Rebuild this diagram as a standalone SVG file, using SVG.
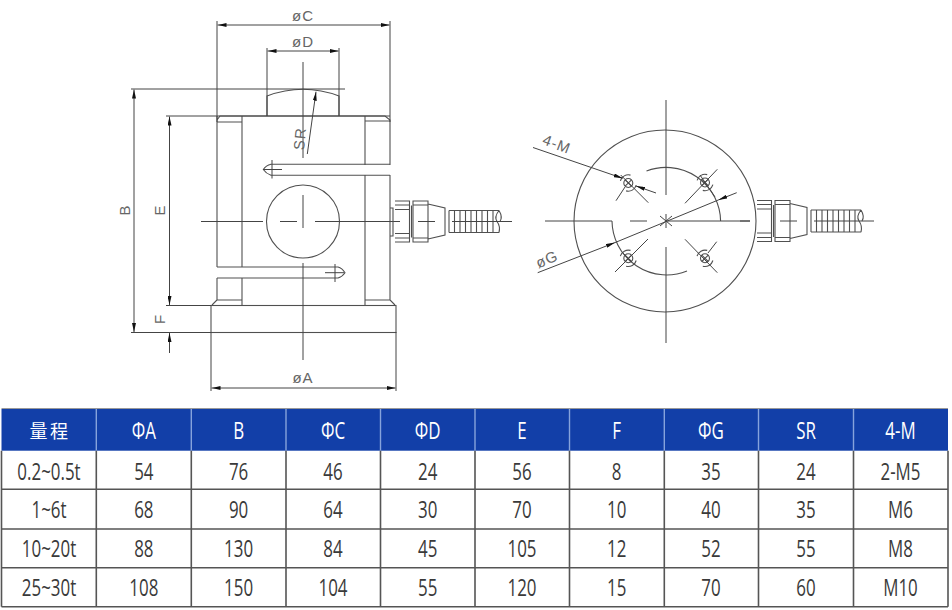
<svg xmlns="http://www.w3.org/2000/svg" width="952" height="610" viewBox="0 0 952 610">
<style>
.l{fill:none;stroke:#505050;stroke-width:1.1}
.d{fill:none;stroke:#444;stroke-width:1}
.a{marker-start:url(#ar);marker-end:url(#ar)}
.e{marker-end:url(#ar)}
.lb{font-family:"Liberation Sans",Arial,sans-serif;font-size:15px;fill:#666;text-anchor:middle;letter-spacing:1px}
.g{stroke:#555;stroke-width:1.6}
.h{stroke:#86a3dc;stroke-width:1.4}
.t{font-family:"Open Sans","Liberation Sans",sans-serif;font-size:23.500px;fill:#3a3a3a;text-anchor:middle}
.w{fill:#fff}
</style>
<defs>
<marker id="ar" viewBox="0 0 9 4" markerUnits="userSpaceOnUse" markerWidth="9" markerHeight="4" refX="9" refY="2" orient="auto-start-reverse"><path d="M0 0L9 2L0 4Z" fill="#111"/></marker>
<g id="cable">
<path class="l" d="M0 -20.500H14.500V20.500H0M0 -16.500H14.500M0 -12H14.500M0 12H14.500M0 16.500H14.500"/>
<path class="l" d="M16.500 -16V16M18 -20.500H33V20.500H18ZM18 -16.500H33M18 16.500H33M33 -17.500L50 -13.500V13.500L33 17.500"/>
<path class="l" d="M54 -11H104M54 11H104M54 -11V11M59.500 -11V11M65 -11V11M70.500 -11V11M76 -11V11M81.500 -11V11M87 -11V11M92.500 -11V11M98 -11V11M104 -11C100 -6 100 -3 102 0C105 4 105 7 104 11M104 -11C107 -6 107 -3 105 0"/>
<path class="d" d="M23 0H40M57 0H117"/>
</g>
<g id="bolt"><circle class="l" r="4.500"/><path class="l" d="M-3.200 -3.200L3.200 3.200M-3.200 3.200L3.200 -3.200"/><path class="l" d="M-7.900 -2.200A8.200 8.200 0 0 1 2.200 -7.900M7.900 2.200A8.200 8.200 0 0 1 -2.200 7.900"/></g>
</defs>
<rect width="952" height="610" fill="#fff"/>
<g id="side-view">
<path class="l" d="M217 116V267M217 278V300L212 305M217 120L220 116H385L390 120V165M390 175V300L395 305M217 122H242M242 116V267M242 278V305M365 116V165M365 175V305M365 121H390M365 300H390M217 300H242"/>
<path class="l" d="M390 164.300H271Q266 165.500 263.300 169.500Q266 173.500 271 175.300H390"/>
<path class="l" d="M217 267H338Q342 268 345 272.700Q342 277 338 278H217"/>
<rect class="l" x="211" y="305.500" width="185" height="27"/>
<path class="l" d="M267 116V96Q303 82.500 339 96V116"/>
<circle class="l" cx="303" cy="221.500" r="36.500"/>
<path class="d" d="M263 169.500H282M272 160V178.500M325 272.700H344M335 264V282"/>
<path class="d" d="M303 62V158M303 195V228M303 263V360M201 221.500H263M280 221.500H297M315 221.500H400"/>
</g>
<g id="dimensions">
<path class="d" d="M217 21V122M390 21V122M267 48V116M339 48V116M131 89H345M166 116H390M166 305.500H211M131 332.500H211M211 332V391M396 332V391"/>
<path class="d a" d="M217.500 25H389.500"/>
<path class="d a" d="M267.500 51H338.500"/>
<path class="d a" d="M134 89.500V332"/>
<path class="d a" d="M169.500 116.500V305"/>
<path class="d" style="marker-start:url(#ar)" d="M169.500 333V353"/>
<path class="d a" d="M211.500 388H395.500"/>
<path class="d e" d="M307.300 154L316 91.700"/>
<text class="lb" x="303" y="20.500">øC</text>
<text class="lb" x="303" y="46.500">øD</text>
<text class="lb" x="303" y="383">øA</text>
<text class="lb" transform="translate(130 210) rotate(-90)">B</text>
<text class="lb" transform="translate(165 210) rotate(-90)">E</text>
<text class="lb" transform="translate(165 319) rotate(-90)">F</text>
<text class="lb" transform="translate(305 139) rotate(-85)">SR</text>
</g>
<use href="#cable" x="395" y="221.500"/>
<path class="l" d="M390 208H393V236H390"/>
<g id="top-view">
<circle class="l" cx="665" cy="221" r="91"/>
<path class="l" d="M646.500 171A54.600 54.600 0 0 1 720.600 221M612 221A54.600 54.600 0 0 0 687 271"/>
<path class="d" d="M666 100V195M666 247V343M545 221H612V221M630 221H647M666 221H750M666 214V228M660 216L672 226M672 216L660 226"/>
<use href="#bolt" x="628.300" y="183"/>
<use href="#bolt" x="705" y="182.500"/>
<use href="#bolt" x="628.300" y="258.300"/>
<use href="#bolt" x="705" y="258.300"/>
<path class="d" d="M620.700 175L648.300 202.700M616 200.700L625 187M685 203.300L717.300 169.300M700 175L715 197M648 239L615 272M622 252L632 262M685 239.300L717.300 272.700M716.700 241.700L708 253"/>
<path class="d e" d="M533 147.500L622.700 178.300"/>
<path class="d e" d="M656 193L636 186"/>
<path class="d e" d="M537.700 272.700L615 242.600"/>
<path class="d" d="M615 242.600L718.300 200"/>
<path class="d e" d="M736.700 192.700L718.300 200"/>
<text class="lb" transform="translate(555 149) rotate(21)">4-M</text>
<text class="lb" transform="translate(549 264) rotate(-23)">øG</text>
</g>
<use href="#cable" x="757" y="221"/>
<path class="d" d="M740 221H750"/>
<g id="spec-table">
<rect x="1.500" y="409" width="946.500" height="41.700" fill="#123fa8"/>
<path stroke="#999" stroke-width="1.200" d="M1.500 408.500H948"/>
<path class="h" d="M96.300 409V450.700M191.300 409V450.700M286 409V450.700M380.500 409V450.700M475 409V450.700M569.500 409V450.700M664.300 409V450.700M758.500 409V450.700M853.500 409V450.700"/>
<path class="g" d="M1.500 489.300H948M1.500 529H948M1.500 567.700H948M1.500 606.700H948M1.500 450.700V606.700M96.300 450.700V606.700M191.300 450.700V606.700M286 450.700V606.700M380.500 450.700V606.700M475 450.700V606.700M569.500 450.700V606.700M664.300 450.700V606.700M758.500 450.700V606.700M853.500 450.700V606.700M948 450.700V606.700"/>
<text x="50" y="438" fill="#fff" text-anchor="middle" font-family="'Noto Sans CJK SC',sans-serif" font-size="18" letter-spacing="2.500">量程</text>
<text class="t w" transform="translate(143.800 439) scale(.72 1)">ΦA</text>
<text class="t w" transform="translate(238.600 439) scale(.72 1)">B</text>
<text class="t w" transform="translate(333 439) scale(.72 1)">ΦC</text>
<text class="t w" transform="translate(427.700 439) scale(.72 1)">ΦD</text>
<text class="t w" transform="translate(522 439) scale(.72 1)">E</text>
<text class="t w" transform="translate(616.700 439) scale(.72 1)">F</text>
<text class="t w" transform="translate(711 439) scale(.72 1)">ΦG</text>
<text class="t w" transform="translate(806 439) scale(.72 1)">SR</text>
<text class="t w" transform="translate(900.500 439) scale(.72 1)">4-M</text>
<text class="t" transform="translate(49 479.500) scale(.72 1)">0.2~0.5t</text>
<text class="t" transform="translate(143.800 479.500) scale(.72 1)">54</text>
<text class="t" transform="translate(238.600 479.500) scale(.72 1)">76</text>
<text class="t" transform="translate(333 479.500) scale(.72 1)">46</text>
<text class="t" transform="translate(427.700 479.500) scale(.72 1)">24</text>
<text class="t" transform="translate(522 479.500) scale(.72 1)">56</text>
<text class="t" transform="translate(616.700 479.500) scale(.72 1)">8</text>
<text class="t" transform="translate(711 479.500) scale(.72 1)">35</text>
<text class="t" transform="translate(806 479.500) scale(.72 1)">24</text>
<text class="t" transform="translate(900.500 479.500) scale(.72 1)">2-M5</text>
<text class="t" transform="translate(49 518) scale(.72 1)">1~6t</text>
<text class="t" transform="translate(143.800 518) scale(.72 1)">68</text>
<text class="t" transform="translate(238.600 518) scale(.72 1)">90</text>
<text class="t" transform="translate(333 518) scale(.72 1)">64</text>
<text class="t" transform="translate(427.700 518) scale(.72 1)">30</text>
<text class="t" transform="translate(522 518) scale(.72 1)">70</text>
<text class="t" transform="translate(616.700 518) scale(.72 1)">10</text>
<text class="t" transform="translate(711 518) scale(.72 1)">40</text>
<text class="t" transform="translate(806 518) scale(.72 1)">35</text>
<text class="t" transform="translate(900.500 518) scale(.72 1)">M6</text>
<text class="t" transform="translate(49 557) scale(.72 1)">10~20t</text>
<text class="t" transform="translate(143.800 557) scale(.72 1)">88</text>
<text class="t" transform="translate(238.600 557) scale(.72 1)">130</text>
<text class="t" transform="translate(333 557) scale(.72 1)">84</text>
<text class="t" transform="translate(427.700 557) scale(.72 1)">45</text>
<text class="t" transform="translate(522 557) scale(.72 1)">105</text>
<text class="t" transform="translate(616.700 557) scale(.72 1)">12</text>
<text class="t" transform="translate(711 557) scale(.72 1)">52</text>
<text class="t" transform="translate(806 557) scale(.72 1)">55</text>
<text class="t" transform="translate(900.500 557) scale(.72 1)">M8</text>
<text class="t" transform="translate(49 596) scale(.72 1)">25~30t</text>
<text class="t" transform="translate(143.800 596) scale(.72 1)">108</text>
<text class="t" transform="translate(238.600 596) scale(.72 1)">150</text>
<text class="t" transform="translate(333 596) scale(.72 1)">104</text>
<text class="t" transform="translate(427.700 596) scale(.72 1)">55</text>
<text class="t" transform="translate(522 596) scale(.72 1)">120</text>
<text class="t" transform="translate(616.700 596) scale(.72 1)">15</text>
<text class="t" transform="translate(711 596) scale(.72 1)">70</text>
<text class="t" transform="translate(806 596) scale(.72 1)">60</text>
<text class="t" transform="translate(900.500 596) scale(.72 1)">M10</text>
</g>
</svg>
